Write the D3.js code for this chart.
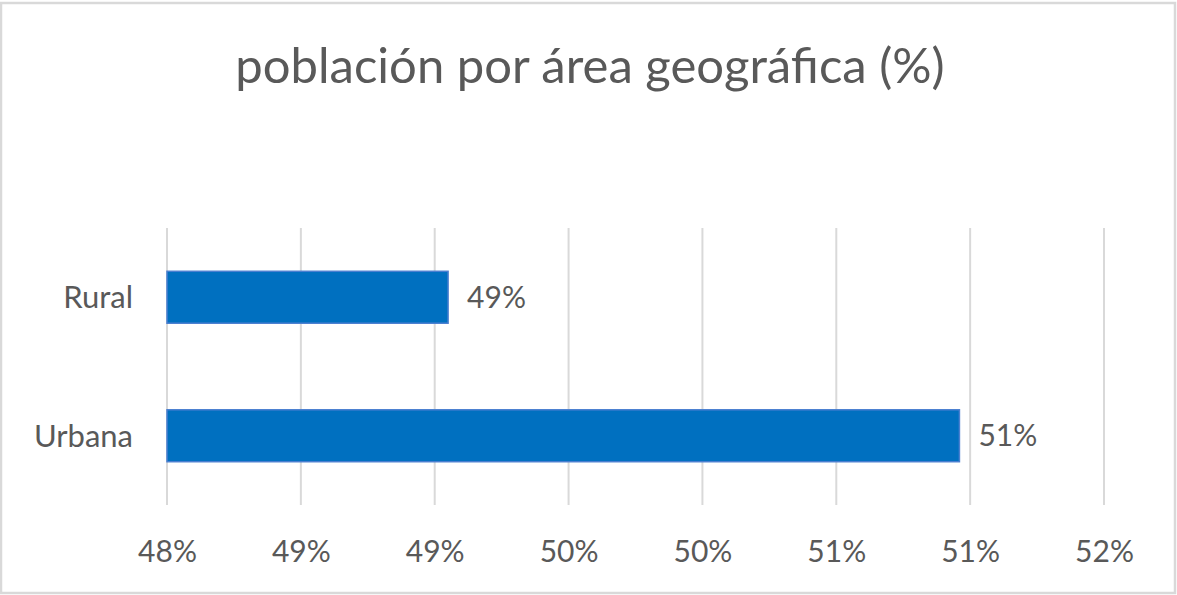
<!DOCTYPE html>
<html>
<head>
<meta charset="utf-8">
<script src="https://cdn.jsdelivr.net/npm/d3@7"></script>
<style>
  body { margin: 0; background: #fff; }
  text { font-family: Lato, "Open Sans", sans-serif; fill: #595959; }
</style>
</head>
<body>
<svg></svg>
<script>
const size = {w: 1177, h: 595};
const plot = {l: 167, r: 1104, t: 228, b: 505};

const title = 'población por área geográfica (%)';
const categories = ['Rural', 'Urbana'];
const values = [0.4905, 0.5096];
const ticks = [0.48, 0.485, 0.49, 0.495, 0.50, 0.505, 0.51, 0.515];

const svg = d3.select('svg')
    .attr('width', size.w)
    .attr('height', size.h);

// chart border
svg.append('rect')
    .attr('x', 1).attr('y', 3)
    .attr('width', size.w - 3).attr('height', size.h - 5)
    .attr('fill', '#fff')
    .attr('stroke', '#d9d9d9')
    .attr('stroke-width', 2.5);

let x = d3.scaleLinear()
    .domain([ticks[0], ticks[ticks.length - 1]])
    .range([plot.l, plot.r]);

let y = d3.scaleBand()
    .domain(categories)
    .range([plot.t, plot.b])
    .paddingInner(0.625)
    .paddingOuter(0.3125);

// gridlines
svg.append('g').selectAll('line')
    .data(ticks)
    .join('line')
    .attr('x1', d => x(d)).attr('x2', d => x(d))
    .attr('y1', plot.t).attr('y2', plot.b)
    .attr('stroke', '#d9d9d9')
    .attr('stroke-width', 2);

// x axis labels
let axisX = d3.axisBottom(x)
    .tickValues(ticks)
    .tickFormat(d3.format('.0%'))
    .tickSize(0)
    .tickPadding(0);

let axisG = svg.append('g')
    .attr('transform', `translate(0, ${plot.b + 46})`)
    .call(axisX);
axisG.select('.domain').remove();
axisG.selectAll('text')
    .attr('dy', '0.35em')
    .attr('y', 0)
    .style('font-size', '30px')
    .style('font-family', 'Lato, sans-serif')
    .attr('fill', '#595959');

// bars
svg.append('g').selectAll('rect')
    .data(categories)
    .join('rect')
    .attr('x', x(ticks[0]))
    .attr('y', d => y(d))
    .attr('width', (d, i) => x(values[i]) - x(ticks[0]))
    .attr('height', y.bandwidth())
    .attr('fill', '#0070c0')
    .attr('stroke', '#4a7fd0')
    .attr('stroke-width', 1.5);

// category labels
svg.append('g').selectAll('text')
    .data(categories)
    .join('text')
    .attr('x', plot.l - 34)
    .attr('y', d => y(d) + y.bandwidth() / 2)
    .attr('dy', '0.35em')
    .attr('text-anchor', 'end')
    .style('font-size', '31px')
    .text(d => d);

// value labels
svg.append('g').selectAll('text')
    .data(values)
    .join('text')
    .attr('x', d => x(d) + 19)
    .attr('y', (d, i) => y(categories[i]) + y.bandwidth() / 2)
    .attr('dy', '0.35em')
    .style('font-size', '30px')
    .text(d => d3.format('.0%')(d));

// title
svg.append('text')
    .attr('x', 590)
    .attr('y', 83)
    .attr('text-anchor', 'middle')
    .style('font-size', '49px')
    .text(title);
</script>
</body>
</html>
